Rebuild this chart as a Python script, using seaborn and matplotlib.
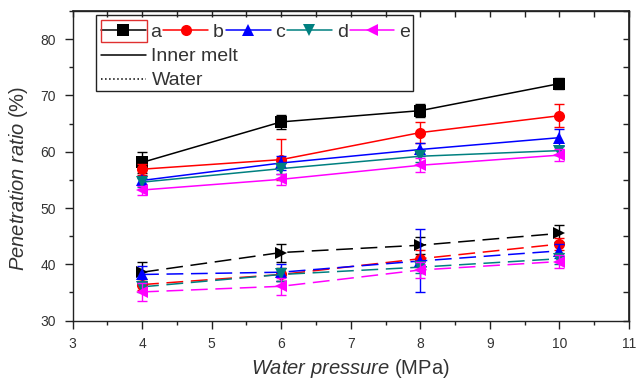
import matplotlib
matplotlib.use("Agg")
import matplotlib.pyplot as plt
from matplotlib.lines import Line2D
from matplotlib.patches import Rectangle
from matplotlib.ticker import MultipleLocator
import pandas as pd
import seaborn as sns

# Water pressure levels (MPa)
pressure = [4, 6, 8, 10]
groups = ["a", "b", "c", "d", "e"]

# Penetration ratio (%) - inner melt
inner_a = [58.1, 65.3, 67.3, 72.1]
inner_b = [56.9, 58.6, 63.4, 66.4]
inner_c = [54.9, 58.0, 60.4, 62.5]
inner_d = [54.6, 57.0, 59.2, 60.2]
inner_e = [53.2, 55.1, 57.6, 59.4]
inner_a_err = [1.9, 1.2, 1.2, 1.0]
inner_b_err = [1.0, 3.6, 1.8, 2.0]
inner_c_err = [0.8, 1.2, 1.2, 1.5]
inner_d_err = [0.8, 1.0, 1.0, 0.8]
inner_e_err = [0.8, 1.0, 1.2, 1.0]

# Penetration ratio (%) - water
water_a = [38.6, 42.1, 43.4, 45.5]
water_b = [36.4, 38.2, 41.0, 43.6]
water_c = [38.2, 38.6, 40.6, 42.4]
water_d = [36.0, 38.2, 39.5, 41.0]
water_e = [35.1, 36.1, 39.0, 40.5]
water_a_err = [1.8, 1.6, 1.5, 1.5]
water_b_err = [1.0, 1.2, 1.5, 1.0]
water_c_err = [1.5, 1.5, 5.6, 1.2]
water_d_err = [1.0, 1.2, 1.0, 1.0]
water_e_err = [1.6, 1.5, 1.5, 1.2]

inner = {"a": (inner_a, inner_a_err), "b": (inner_b, inner_b_err),
         "c": (inner_c, inner_c_err), "d": (inner_d, inner_d_err),
         "e": (inner_e, inner_e_err)}
water = {"a": (water_a, water_a_err), "b": (water_b, water_b_err),
         "c": (water_c, water_c_err), "d": (water_d, water_d_err),
         "e": (water_e, water_e_err)}

colors = {"a": "#000000", "b": "#FF0000", "c": "#0000FF",
          "d": "#008080", "e": "#FF00FF"}
markers_inner = {"a": "s", "b": "o", "c": "^", "d": "v", "e": "<"}
markers_water = {"a": ">", "b": "o", "c": "^", "d": "v", "e": "<"}

sns.set_theme(style="ticks")
plt.rcParams["font.family"] = ["Liberation Sans", "DejaVu Sans"]
plt.rcParams["mathtext.fontset"] = "custom"
plt.rcParams["mathtext.it"] = "Liberation Sans:italic"
plt.rcParams["mathtext.rm"] = "Liberation Sans"

fig = plt.figure(figsize=(6.36, 3.79), dpi=100)
ax = fig.add_axes([0.114, 0.154, 0.875, 0.817])

rows = []
for g in groups:
    for cond, src in (("Inner melt", inner), ("Water", water)):
        vals, errs = src[g]
        for x, v, e in zip(pressure, vals, errs):
            rows.append({"pressure": x, "ratio": v, "err": e,
                         "group": g, "cond": cond})
df = pd.DataFrame(rows)

for g in groups:
    for cond, mk, ls in (("Inner melt", markers_inner[g], "-"),
                         ("Water", markers_water[g], (0, (11, 5)))):
        sub = df[(df.group == g) & (df.cond == cond)]
        sns.lineplot(data=sub, x="pressure", y="ratio", ax=ax,
                     color=colors[g], linestyle=ls, linewidth=1.1,
                     marker=mk, markersize=8, markeredgewidth=0,
                     errorbar=None, legend=False)
        ax.errorbar(sub.pressure, sub.ratio, yerr=sub.err, fmt="none",
                    ecolor=colors[g], elinewidth=1.0, capsize=3.5,
                    capthick=1.0)

ax.set_xlim(3, 11)
ax.set_ylim(30, 85)
ax.xaxis.set_major_locator(MultipleLocator(1))
ax.xaxis.set_minor_locator(MultipleLocator(0.5))
ax.yaxis.set_major_locator(MultipleLocator(10))
ax.yaxis.set_minor_locator(MultipleLocator(5))
ax.tick_params(axis="both", which="both", direction="out", top=False,
               right=False, labelsize=10, labelcolor="#333333",
               color="#222222", width=1.0)
ax.tick_params(which="major", length=6)
ax.tick_params(which="minor", length=3)
ax.tick_params(axis="x", which="both", pad=6)
ax.tick_params(axis="y", which="both", pad=6)

# inward ticks along the top and right edges
sec_x = ax.secondary_xaxis("top")
sec_x.xaxis.set_major_locator(MultipleLocator(1))
sec_x.xaxis.set_minor_locator(MultipleLocator(0.5))
sec_x.tick_params(which="both", direction="in", labeltop=False,
                  color="#222222", width=1.0, length=4.5)
sec_y = ax.secondary_yaxis("right")
sec_y.yaxis.set_major_locator(MultipleLocator(10))
sec_y.yaxis.set_minor_locator(MultipleLocator(5))
sec_y.tick_params(which="both", direction="in", labelright=False,
                  color="#222222", width=1.0, length=4.5)

for sp in ax.spines.values():
    sp.set_color("#222222")
    sp.set_linewidth(1.0)

ax.set_xlabel(r"$\it{Water\ pressure}$ (MPa)", fontsize=14.5,
              color="#333333", labelpad=4)
ax.set_ylabel(r"$\it{Penetration\ ratio}$ (%)", fontsize=14.5,
              color="#333333")
ax.yaxis.set_label_coords(-0.077, 0.46)

# legend: series row, then condition rows, inside one frame
series_handles = [Line2D([], [], color=colors[g], marker=markers_inner[g],
                         markersize=8, markeredgewidth=0, linewidth=1.1)
                  for g in groups]
leg1 = ax.legend(series_handles, groups, ncol=5, loc="center left",
                 bbox_to_anchor=(0.051, 0.932), frameon=False, fontsize=14,
                 handlelength=2.3, handletextpad=0.25, columnspacing=0.1,
                 borderaxespad=0.0, borderpad=0.0)
for t in leg1.get_texts():
    t.set_color("#333333")
ax.add_artist(leg1)
cond_handles = [Line2D([], [], color="black", linewidth=1.1),
                Line2D([], [], color="black", linewidth=1.1, linestyle=":")]
leg2 = ax.legend(cond_handles, ["Inner melt", "Water"], loc="center left",
                 bbox_to_anchor=(0.051, 0.814), frameon=False, fontsize=14,
                 handlelength=2.3, handletextpad=0.3, labelspacing=0.32,
                 borderaxespad=0.0, borderpad=0.0)
for t in leg2.get_texts():
    t.set_color("#333333")
ax.add_patch(Rectangle((0.0414, 0.742), 0.571, 0.244, transform=ax.transAxes,
                       fill=False, edgecolor="#222222", linewidth=1.0,
                       zorder=5))
ax.add_patch(Rectangle((0.051, 0.899), 0.082, 0.073, transform=ax.transAxes,
                       fill=False, edgecolor="#E03030", linewidth=1.0,
                       zorder=5))

fig.savefig("out.png", dpi=100)
